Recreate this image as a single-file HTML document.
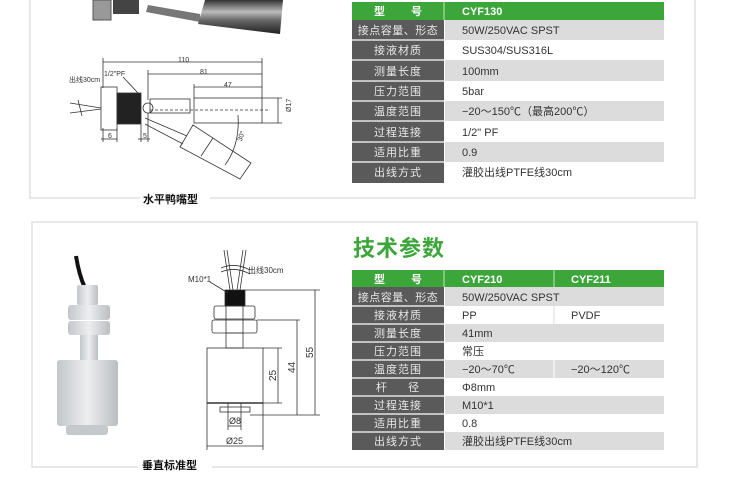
<!DOCTYPE html>
<html><head><meta charset="utf-8"><style>
html,body{margin:0;padding:0;background:#fff;}
svg{display:block;}
text{font-family:"Liberation Sans","Noto Sans CJK SC",sans-serif;}
</style></head><body>
<svg width="750" height="500" viewBox="0 0 750 500" xmlns="http://www.w3.org/2000/svg">
<defs>
<linearGradient id="steel" x1="0" y1="0" x2="0" y2="1">
<stop offset="0" stop-color="#333"/><stop offset="0.35" stop-color="#bbb"/><stop offset="0.6" stop-color="#666"/><stop offset="1" stop-color="#222"/>
</linearGradient>
<linearGradient id="pl" x1="0" y1="0" x2="1" y2="0">
<stop offset="0" stop-color="#c4c7ca"/><stop offset="0.5" stop-color="#eceef0"/><stop offset="1" stop-color="#bbbec1"/>
</linearGradient>
</defs>
<!-- panel 1 -->
<polyline points="30,0 30,198 695,198 695,0" fill="none" stroke="#e0e0e0" stroke-width="1.5"/>
<rect x="140" y="188" width="70" height="16" fill="#fff"/>
<text x="143" y="203" font-size="11" font-weight="bold" fill="#111">水平鸭嘴型</text>
<!-- panel 2 -->
<rect x="32" y="222" width="665" height="245" fill="none" stroke="#e0e0e0" stroke-width="1.5"/>
<rect x="138" y="456" width="74" height="16" fill="#fff"/>
<text x="142" y="469" font-size="11" font-weight="bold" fill="#111">垂直标准型</text>

<!-- top photo -->
<rect x="93" y="0" width="18" height="20" fill="#999" stroke="#555"/>
<rect x="113" y="0" width="26" height="14" fill="#444"/>
<path d="M148,5 L200,14 L200,22 L146,12 Z" fill="#777"/>
<path d="M205,0 L283,0 L280,34 L198,24 Z" fill="url(#steel)"/>

<!-- horizontal drawing -->
<g stroke="#333" stroke-width="0.8" fill="none">
<line x1="103" y1="62" x2="262" y2="62"/><line x1="103" y1="58" x2="103" y2="88"/><line x1="262" y1="58" x2="262" y2="98"/>
<line x1="148" y1="74" x2="262" y2="74"/><line x1="148" y1="70" x2="148" y2="100"/>
<line x1="194" y1="87" x2="262" y2="87"/><line x1="194" y1="84" x2="194" y2="98"/>
<rect x="101" y="87" width="16" height="43"/>
<rect x="117" y="93" width="24" height="31" fill="#222"/>
<circle cx="148" cy="108" r="5"/>
<rect x="150" y="99" width="40" height="14"/>
<rect x="194" y="98" width="68" height="25"/>
<line x1="150" y1="110" x2="268" y2="110" stroke-dasharray="3,2"/>
<line x1="262" y1="98" x2="282" y2="98"/><line x1="262" y1="123" x2="282" y2="123"/><line x1="278" y1="98" x2="278" y2="123"/>
<polygon points="193,125 251,163 240,179 180,147"/>
<line x1="145" y1="118" x2="187" y2="136"/><line x1="145" y1="124" x2="183" y2="144"/>
<line x1="213" y1="138" x2="201" y2="156"/>
<path d="M238,115 Q240,145 225,165"/>
<line x1="101" y1="139" x2="117" y2="139"/><line x1="103" y1="128" x2="103" y2="142"/><line x1="117" y1="128" x2="117" y2="142"/>
<line x1="138" y1="139" x2="150" y2="139"/><line x1="141" y1="124" x2="141" y2="142"/><line x1="148" y1="113" x2="148" y2="142"/>
<line x1="123" y1="77" x2="138" y2="93"/>
<path d="M70,103 L101,108 M70,113 L101,109 M78,100 L82,116"/>
</g>
<text x="69" y="82" font-size="7" fill="#333">出线30cm</text>
<text x="104" y="76" font-size="7" fill="#333">1/2"PF</text>
<text x="178" y="62" font-size="7" fill="#333">110</text>
<text x="200" y="74" font-size="7" fill="#333">81</text>
<text x="224" y="87" font-size="7" fill="#333">47</text>
<text x="108" y="138" font-size="7" fill="#333">6</text>
<text x="143" y="138" font-size="7" fill="#333">5</text>
<text x="236" y="140" font-size="7" fill="#333" transform="rotate(-70 240 137)">30°</text>
<text x="282" y="117" font-size="7" fill="#333" transform="rotate(-90 284 110)">Ø17</text>

<!-- bottom photo -->
<path d="M76,256 Q79,275 85,288" stroke="#111" stroke-width="4" fill="none"/>
<rect x="77" y="285" width="21" height="20" rx="2" fill="url(#pl)"/>
<rect x="68" y="305" width="42" height="15" rx="3" fill="url(#pl)"/>
<rect x="68" y="321" width="42" height="14" rx="3" fill="url(#pl)"/>
<rect x="80" y="335" width="18" height="26" fill="url(#pl)"/>
<rect x="57" y="360" width="61" height="66" rx="3" fill="url(#pl)"/>
<rect x="66" y="425" width="42" height="10" rx="3" fill="#c6c9cb"/>

<!-- vertical drawing -->
<g stroke="#333" stroke-width="0.8" fill="none">
<path d="M230,290 L224,250 M240,290 L246,250 M233,290 L227,250 M237,290 L243,250"/>
<path d="M221,268 Q235,262 250,270 M221,272 Q235,266 250,274"/>
<rect x="225" y="290" width="20" height="16" fill="#111"/>
<rect x="214" y="306" width="41" height="13" rx="2"/>
<rect x="212" y="320" width="45" height="13" rx="2"/>
<line x1="226" y1="306" x2="226" y2="333"/><line x1="243" y1="306" x2="243" y2="333"/>
<rect x="226" y="333" width="17" height="15"/>
<rect x="207" y="348" width="56" height="55"/>
<line x1="207" y1="403" x2="263" y2="403" stroke-width="1.5"/>
<rect x="220" y="407" width="30" height="5"/>
<line x1="228" y1="403" x2="228" y2="430"/><line x1="241" y1="403" x2="241" y2="430"/>
<line x1="228" y1="426" x2="241" y2="426"/>
<line x1="207" y1="403" x2="207" y2="450"/><line x1="263" y1="403" x2="263" y2="450"/>
<line x1="207" y1="446" x2="263" y2="446"/>
<line x1="245" y1="290" x2="320" y2="290"/><line x1="315" y1="290" x2="315" y2="415"/>
<line x1="257" y1="320" x2="300" y2="320"/><line x1="297" y1="320" x2="297" y2="415"/>
<line x1="263" y1="348" x2="282" y2="348"/><line x1="278" y1="348" x2="278" y2="403"/>
<line x1="263" y1="403" x2="282" y2="403"/>
<line x1="250" y1="415" x2="320" y2="415"/>
<line x1="210" y1="282" x2="228" y2="293"/>
</g>
<text x="188" y="282" font-size="8" fill="#333">M10*1</text>
<text x="248" y="273" font-size="8" fill="#333">出线30cm</text>
<text x="229" y="424" font-size="9" fill="#333">Ø8</text>
<text x="226" y="444" font-size="9" fill="#333">Ø25</text>
<text x="0" y="0" font-size="10" fill="#333" transform="translate(276,381) rotate(-90)">25</text>
<text x="0" y="0" font-size="10" fill="#333" transform="translate(295,373) rotate(-90)">44</text>
<text x="0" y="0" font-size="10" fill="#333" transform="translate(313,358) rotate(-90)">55</text>

<!-- table 1 -->
<rect x="352" y="2" width="312" height="18" fill="#3ca63a"/>
<line x1="444" y1="2" x2="444" y2="20" stroke="#bfe6bb"/>
<text x="374" y="15" font-size="11" font-weight="bold" fill="#fff">型</text>
<text x="411" y="15" font-size="11" font-weight="bold" fill="#fff">号</text>
<text x="462" y="15" font-size="11" font-weight="bold" fill="#fff">CYF130</text>
<g font-size="11">
<rect x="352" y="20" width="92" height="163" fill="#5a5a5a"/>
<rect x="445" y="20" width="219" height="20" fill="#dcdcdc"/>
<rect x="445" y="60" width="219" height="21" fill="#dcdcdc"/>
<rect x="445" y="101" width="219" height="20" fill="#dcdcdc"/>
<rect x="445" y="142" width="219" height="20" fill="#dcdcdc"/>
<g stroke="#fff" stroke-width="1.2"><line x1="352" y1="40" x2="444" y2="40"/><line x1="352" y1="60" x2="444" y2="60"/><line x1="352" y1="81" x2="444" y2="81"/><line x1="352" y1="101" x2="444" y2="101"/><line x1="352" y1="121" x2="444" y2="121"/><line x1="352" y1="142" x2="444" y2="142"/><line x1="352" y1="162" x2="444" y2="162"/></g>
<g fill="#e8e8e8" text-anchor="middle" letter-spacing="1">
<text x="398" y="34" letter-spacing="0.5">接点容量、形态</text><text x="398" y="54">接液材质</text><text x="398" y="75">测量长度</text><text x="398" y="95">压力范围</text><text x="398" y="115">温度范围</text><text x="398" y="136">过程连接</text><text x="398" y="156">适用比重</text><text x="398" y="176">出线方式</text>
</g>
<g fill="#333">
<text x="462" y="34">50W/250VAC SPST</text><text x="462" y="54">SUS304/SUS316L</text><text x="462" y="75">100mm</text><text x="462" y="95">5bar</text><text x="462" y="115">−20～150℃（最高200℃）</text><text x="462" y="136">1/2" PF</text><text x="462" y="156">0.9</text><text x="462" y="176">灌胶出线PTFE线30cm</text>
</g>
</g>

<!-- table 2 -->
<text x="353" y="256" font-size="22" font-weight="bold" fill="#3ca63a" letter-spacing="1">技术参数</text>
<rect x="352" y="270" width="312" height="17" fill="#3ca63a"/>
<line x1="444" y1="270" x2="444" y2="287" stroke="#bfe6bb"/>
<line x1="554" y1="270" x2="554" y2="287" stroke="#bfe6bb"/>
<text x="374" y="283" font-size="11" font-weight="bold" fill="#fff">型</text>
<text x="411" y="283" font-size="11" font-weight="bold" fill="#fff">号</text>
<text x="462" y="283" font-size="11" font-weight="bold" fill="#fff">CYF210</text>
<text x="571" y="283" font-size="11" font-weight="bold" fill="#fff">CYF211</text>
<g font-size="11">
<rect x="352" y="287" width="92" height="163" fill="#5a5a5a"/>
<rect x="445" y="287" width="219" height="19" fill="#dcdcdc"/>
<rect x="445" y="324" width="219" height="18" fill="#dcdcdc"/>
<rect x="445" y="360" width="219" height="18" fill="#dcdcdc"/>
<rect x="445" y="396" width="219" height="18" fill="#dcdcdc"/>
<rect x="445" y="432" width="219" height="18" fill="#dcdcdc"/>
<line x1="554" y1="306" x2="554" y2="324" stroke="#ddd"/>
<line x1="554" y1="360" x2="554" y2="378" stroke="#fff"/>
<g stroke="#fff" stroke-width="1.2"><line x1="352" y1="306" x2="444" y2="306"/><line x1="352" y1="324" x2="444" y2="324"/><line x1="352" y1="342" x2="444" y2="342"/><line x1="352" y1="360" x2="444" y2="360"/><line x1="352" y1="378" x2="444" y2="378"/><line x1="352" y1="396" x2="444" y2="396"/><line x1="352" y1="414" x2="444" y2="414"/><line x1="352" y1="432" x2="444" y2="432"/></g>
<g fill="#e8e8e8" text-anchor="middle" letter-spacing="1">
<text x="398" y="301" letter-spacing="0.5">接点容量、形态</text><text x="398" y="319">接液材质</text><text x="398" y="337">测量长度</text><text x="398" y="355">压力范围</text><text x="398" y="373">温度范围</text><text x="398" y="391" xml:space="preserve">杆     径</text><text x="398" y="409">过程连接</text><text x="398" y="427">适用比重</text><text x="398" y="445">出线方式</text>
</g>
<g fill="#333">
<text x="462" y="301">50W/250VAC SPST</text><text x="462" y="319">PP</text><text x="571" y="319">PVDF</text><text x="462" y="337">41mm</text><text x="462" y="355">常压</text><text x="462" y="373">−20～70℃</text><text x="571" y="373">−20～120℃</text><text x="462" y="391">Φ8mm</text><text x="462" y="409">M10*1</text><text x="462" y="427">0.8</text><text x="462" y="445">灌胶出线PTFE线30cm</text>
</g>
</g>
</svg>
</body></html>
